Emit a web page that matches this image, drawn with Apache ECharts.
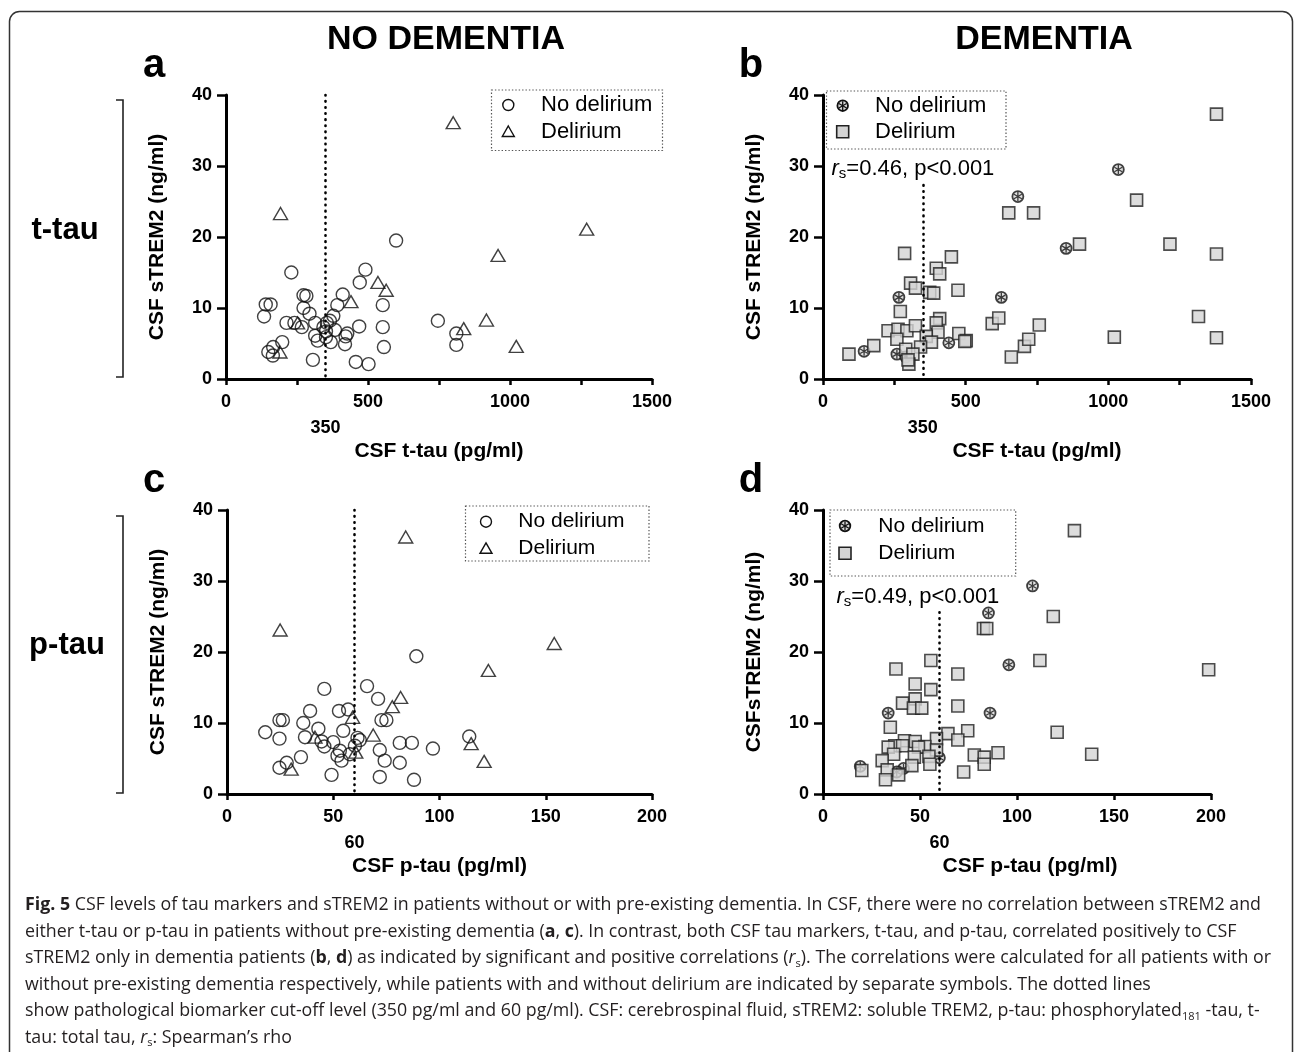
<!DOCTYPE html>
<html><head><meta charset="utf-8">
<script src="https://cdn.jsdelivr.net/npm/echarts@6/dist/echarts.min.js"></script>
<style>html,body{margin:0;padding:0;background:#fff}#c{width:1295px;height:1052px}</style>
</head><body><div id="c"></div>
<script>
// ---------- DATA ----------
// Panel a: no dementia, t-tau (pg/ml) vs sTREM2 (ng/ml)
const aNoDelirium = [[599,19.5],[230,15.0],[491,15.4],[471,13.6],[273,11.8],[283,11.7],[411,11.9],[140,10.5],[157,10.5],[392,10.4],[552,10.4],[273,10.0],[294,9.2],[378,8.9],[134,8.8],[213,7.9],[241,7.9],[267,7.3],[314,7.9],[355,7.9],[366,8.2],[343,7.3],[352,6.7],[384,6.9],[469,7.4],[552,7.3],[314,6.1],[323,5.4],[352,5.9],[369,5.2],[421,6.0],[427,6.4],[419,4.9],[198,5.2],[166,4.5],[149,3.8],[165,3.3],[556,4.5],[306,2.7],[457,2.4],[502,2.1],[746,8.2],[811,6.4],[811,4.8]];
const aDelirium = [[192,23.3],[252,7.9],[190,3.8],[440,10.9],[535,13.6],[564,12.5],[800,36.1],[1270,21.1],[958,17.4],[917,8.3],[837,7.1],[1022,4.6]];
// Panel b: dementia, t-tau vs sTREM2
const bNoDelirium = [[683,25.7],[266,11.5],[625,11.5],[144,3.9],[259,3.5],[290,3.1],[441,5.1],[1035,29.5],[852,18.4]];
const bDelirium = [[651,23.4],[286,17.7],[450,17.2],[397,15.6],[409,14.8],[307,13.5],[324,12.8],[473,12.5],[374,12.2],[388,12.1],[271,9.5],[593,7.8],[616,8.6],[409,8.5],[397,7.9],[228,6.8],[263,7.0],[294,6.8],[324,7.5],[403,6.6],[362,6.0],[476,6.4],[502,5.4],[497,5.3],[380,5.2],[342,4.5],[259,5.6],[290,4.2],[315,3.5],[301,2.1],[298,2.7],[178,4.7],[91,3.5],[660,3.1],[706,4.6],[1379,37.3],[738,23.4],[1099,25.2],[899,19.0],[1216,19.0],[1379,17.6],[758,7.6],[721,5.6],[1316,8.8],[1021,5.9],[1379,5.8]];
// Panel c: no dementia, p-tau vs sTREM2
const cNoDelirium = [[89.1,19.4],[45.8,14.8],[65.9,15.2],[71.1,13.4],[39.1,11.7],[52.7,11.7],[57.0,11.9],[24.7,10.4],[26.3,10.4],[72.7,10.4],[75.0,10.4],[35.9,10.0],[43.0,9.2],[18.0,8.7],[54.7,8.9],[24.7,7.8],[36.7,8.0],[44.5,7.4],[45.8,6.7],[50.0,7.3],[61.4,7.9],[62.5,7.6],[60.2,6.8],[81.3,7.2],[87.0,7.2],[96.9,6.4],[71.9,6.2],[53.1,6.1],[52.0,5.4],[53.9,4.7],[57.8,5.6],[34.8,5.2],[74.2,4.7],[81.3,4.4],[28.1,4.4],[24.7,3.7],[49.2,2.7],[71.9,2.4],[88.0,2.0],[114,8.1]];
const cDelirium = [[84.1,36.2],[25.0,23.1],[81.7,13.6],[77.8,12.3],[59.1,10.8],[68.8,8.3],[41.4,8.0],[60.6,5.9],[30.2,3.5],[154,21.2],[123,17.4],[114.9,7.1],[121,4.6]];
// Panel d: dementia, p-tau vs sTREM2
const dNoDelirium = [[108,29.3],[85.3,25.5],[95.8,18.2],[33.6,11.4],[86.1,11.4],[19.2,3.9],[41.5,3.6],[38,3.1],[60,5.1]];
const dDelirium = [[82.7,23.3],[84.4,23.3],[55.6,18.8],[37.6,17.6],[69.5,16.9],[47.5,15.5],[55.6,14.7],[47.5,13.4],[41.0,12.8],[46.6,12.1],[50.9,12.1],[69.5,12.4],[34.7,9.4],[64.4,8.5],[74.6,8.9],[69.5,7.6],[58.5,7.8],[42.0,7.5],[47.5,7.4],[37.0,6.8],[33.6,6.6],[41.0,6.8],[52.5,6.7],[49.2,6.6],[58.5,6.2],[47.1,5.2],[54.6,5.3],[36.4,5.6],[30.5,4.7],[55.1,4.2],[45.8,4.0],[78.0,5.5],[83.1,5.2],[83.1,4.2],[90.2,5.8],[72.5,3.1],[33.1,3.4],[39.0,2.7],[32.2,2.0],[20.0,3.3],[129.6,37.1],[118.7,25.0],[111.8,18.8],[198.8,17.5],[120.7,8.7],[138.5,5.6]];

const tauCutoff = 350;     // pg/ml
const ptauCutoff = 60;     // pg/ml
const ttauTicks = {max:1500, interval:500};
const ptauTicks = {max:200, interval:50};
const sTrem2Ticks = {max:40, interval:10};
const seriesNames = ['No delirium', 'Delirium'];
const corrB = '=0.46, p<0.001';
const corrD = '=0.49, p<0.001';

// ---------- STYLE ----------
const FF = '"Liberation Sans", Arial, Helvetica, sans-serif';
const CF = '"Open Sans", "Noto Sans", sans-serif';
const K = '#111';
const chart = echarts.init(document.getElementById('c'), null, {renderer:'canvas'});

const grids = [
  {left:226, top:95, width:426, height:284},
  {left:823, top:95, width:428, height:284},
  {left:227, top:510, width:425, height:284},
  {left:823, top:510, width:388, height:284}
];
const plainNum = function (v) { return String(v); };

function xAx(gi, ticks, minor, name, extraName) {
  return Object.assign({
    gridIndex: gi, type: 'value', min: 0, max: ticks.max, interval: ticks.interval,
    name: name, nameLocation: 'middle', nameGap: 62,
    nameTextStyle: {fontFamily: FF, fontSize: 21, fontWeight: 'bold', color: '#000'},
    axisLine: {show: true, onZero: false, lineStyle: {color: '#000', width: 3}},
    axisTick: {show: true, length: 6, lineStyle: {color: '#000', width: 2.5}},
    minorTick: {show: minor, splitNumber: 2, length: 6, lineStyle: {color: '#000', width: 2.5}},
    axisLabel: {fontFamily: FF, fontSize: 18, fontWeight: 'bold', color: '#000', margin: 14, formatter: plainNum},
    splitLine: {show: false}, minorSplitLine: {show: false}
  }, extraName || {});
}
function yAx(gi, name) {
  return {
    gridIndex: gi, type: 'value', min: 0, max: sTrem2Ticks.max, interval: sTrem2Ticks.interval,
    name: name, nameLocation: 'middle', nameGap: 58,
    nameTextStyle: {fontFamily: FF, fontSize: 21, fontWeight: 'bold', color: '#000'},
    axisLine: {show: true, onZero: false, lineStyle: {color: '#000', width: 3}},
    axisTick: {show: true, length: 9, lineStyle: {color: '#000', width: 2.5}},
    axisLabel: {fontFamily: FF, fontSize: 18, fontWeight: 'bold', color: '#000', margin: 14, formatter: plainNum},
    splitLine: {show: false}
  };
}

const dotted = {color: '#000', width: 2.6, type: [0.5, 5.6], cap: 'round'};
function cutLine(x, yTop) {
  return {silent: true, symbol: 'none', label: {show: false}, lineStyle: dotted,
    emphasis: {disabled: true},
    data: [[{coord: [x, yTop]}, {coord: [x, 0]}]]};
}
const circleStyle = {color: 'rgba(255,255,255,0)', borderColor: K, borderWidth: 1.4};
const triStyle = {color: 'rgba(255,255,255,0)', borderColor: K, borderWidth: 1.4};
const squareStyle = {color: '#d4d4d4', borderColor: '#222', borderWidth: 1.6};
const starPath = 'path://M0,-10L0,10M-8.66,-5L8.66,5M-8.66,5L8.66,-5';

function base(gi) { return {type: 'scatter', xAxisIndex: gi, yAxisIndex: gi, emphasis: {disabled: true}, silent: true, animation: false}; }

const series = [
  Object.assign(base(0), {name: seriesNames[0], data: aNoDelirium, symbol: 'circle', symbolSize: 13, itemStyle: circleStyle, markLine: cutLine(tauCutoff, 40)}),
  Object.assign(base(0), {name: seriesNames[1], data: aDelirium, symbol: 'triangle', symbolSize: [14, 12], itemStyle: triStyle}),
  Object.assign(base(1), {name: seriesNames[0], data: bNoDelirium, symbol: 'circle', symbolSize: 11, itemStyle: {color: '#d8d8d8', borderColor: K, borderWidth: 1.8}, markLine: cutLine(tauCutoff, 27.3)}),
  Object.assign(base(1), {name: seriesNames[0] + ' ', data: bNoDelirium, symbol: starPath, symbolSize: 9, symbolKeepAspect: true, itemStyle: {color: 'none', borderColor: K, borderWidth: 1.3}}),
  Object.assign(base(1), {name: seriesNames[1], data: bDelirium, symbol: 'rect', symbolSize: 12, itemStyle: squareStyle}),
  Object.assign(base(2), {name: seriesNames[0], data: cNoDelirium, symbol: 'circle', symbolSize: 13, itemStyle: circleStyle, markLine: cutLine(ptauCutoff, 40)}),
  Object.assign(base(2), {name: seriesNames[1], data: cDelirium, symbol: 'triangle', symbolSize: [14, 12], itemStyle: triStyle}),
  Object.assign(base(3), {name: seriesNames[0], data: dNoDelirium, symbol: 'circle', symbolSize: 11, itemStyle: {color: '#d8d8d8', borderColor: K, borderWidth: 1.8}, markLine: cutLine(ptauCutoff, 25.6)}),
  Object.assign(base(3), {name: seriesNames[0] + ' ', data: dNoDelirium, symbol: starPath, symbolSize: 9, symbolKeepAspect: true, itemStyle: {color: 'none', borderColor: K, borderWidth: 1.3}}),
  Object.assign(base(3), {name: seriesNames[1], data: dDelirium, symbol: 'rect', symbolSize: 12, itemStyle: squareStyle})
];

// ---------- GRAPHIC ----------
const G = [];
G.push({type: 'rect', shape: {x: 9.5, y: 11.5, width: 1283, height: 1070, r: 10}, style: {fill: 'none', stroke: '#333', lineWidth: 1.5}, silent: true});
function txt(x, y, text, size, weight, align, extra) {
  G.push({type: 'text', x: x, y: y, silent: true, style: Object.assign({text: text, fontFamily: FF, fontSize: size, fontWeight: weight || 'normal', fill: '#000', align: align || 'center', verticalAlign: 'middle'}, extra || {})});
}
txt(446, 40, 'NO DEMENTIA', 34, 'bold');
txt(1044, 40, 'DEMENTIA', 34, 'bold');
txt(154, 66, 'a', 40, 'bold');
txt(751, 66, 'b', 40, 'bold');
txt(154, 481, 'c', 40, 'bold');
txt(751, 481, 'd', 40, 'bold');
txt(65, 230, 't-tau', 31, 'bold');
txt(67, 645, 'p-tau', 31, 'bold');
function bracket(y1, y2) {
  G.push({type: 'polyline', silent: true, shape: {points: [[116, y1], [123, y1], [123, y2], [116, y2]]}, style: {stroke: '#222', lineWidth: 1.6, fill: 'none'}});
}
bracket(100, 377);
bracket(516, 793);

function legendBox(x1, y1, x2, y2) {
  G.push({type: 'rect', silent: true, shape: {x: x1, y: y1, width: x2 - x1, height: y2 - y1}, style: {fill: 'none', stroke: '#555', lineWidth: 1.2, lineDash: [1.4, 2]}});
}
function legCircle(x, y) { G.push({type: 'circle', silent: true, shape: {cx: x, cy: y, r: 5.5}, style: {fill: 'none', stroke: K, lineWidth: 1.4}}); }
function legTri(x, y) { G.push({type: 'polygon', silent: true, shape: {points: [[x, y - 5.5], [x + 6, y + 5], [x - 6, y + 5]]}, style: {fill: 'none', stroke: K, lineWidth: 1.4}}); }
function legSquare(x, y) { G.push({type: 'rect', silent: true, shape: {x: x - 6, y: y - 6, width: 12, height: 12}, style: {fill: '#d4d4d4', stroke: '#222', lineWidth: 1.6}}); }
function legStar(x, y) {
  G.push({type: 'circle', silent: true, shape: {cx: x, cy: y, r: 5.3}, style: {fill: '#d8d8d8', stroke: K, lineWidth: 1.8}});
  const r = 4.5, a = [90, 30, -30];
  a.forEach(function (d) {
    const rad = d * Math.PI / 180;
    G.push({type: 'line', silent: true, shape: {x1: x - r * Math.cos(rad), y1: y - r * Math.sin(rad), x2: x + r * Math.cos(rad), y2: y + r * Math.sin(rad)}, style: {stroke: K, lineWidth: 1.3}});
  });
}
// legend a
legendBox(491.5, 90, 662.5, 150.5); legCircle(508.3, 105); legTri(508.3, 131.5);
txt(541, 105, seriesNames[0], 22, 'normal', 'left'); txt(541, 131.5, seriesNames[1], 22, 'normal', 'left');
// legend b
legendBox(826.5, 91, 1006, 149); legStar(842.7, 105.7); legSquare(842.7, 131.7);
txt(875, 106, seriesNames[0], 22, 'normal', 'left'); txt(875, 132, seriesNames[1], 22, 'normal', 'left');
// legend c
legendBox(465.5, 506, 649, 561); legCircle(486, 521.7); legTri(486, 548.3);
txt(518.3, 521.7, seriesNames[0], 21, 'normal', 'left'); txt(518.3, 548.3, seriesNames[1], 21, 'normal', 'left');
// legend d
legendBox(830, 510, 1015.7, 576); legStar(845, 526); legSquare(845, 553.3);
txt(878.3, 526, seriesNames[0], 21, 'normal', 'left'); txt(878.3, 553.3, seriesNames[1], 21, 'normal', 'left');

function corr(x, y, s) {
  G.push({type: 'text', x: x, y: y, silent: true, style: {
    text: '{i|r}{s|s}{n|' + s + '}', align: 'left', verticalAlign: 'middle', fontFamily: FF, fontSize: 22, fill: '#000',
    rich: {
      i: {fontFamily: FF, fontSize: 22, fontStyle: 'italic', lineHeight: 24, fill: '#000'},
      s: {fontFamily: FF, fontSize: 15, lineHeight: 14, verticalAlign: 'bottom', fill: '#000'},
      n: {fontFamily: FF, fontSize: 22, lineHeight: 24, fill: '#000'}
    }}});
}
corr(831.5, 169, corrB);
corr(836.5, 597, corrD);

// caption
const capLines = [
  '{b|Fig. 5} CSF levels of tau markers and sTREM2 in patients without or with pre-existing dementia. In CSF, there were no correlation between sTREM2 and',
  'either t-tau or p-tau in patients without pre-existing dementia ({b|a}, {b|c}). In contrast, both CSF tau markers, t-tau, and p-tau, correlated positively to CSF',
  'sTREM2 only in dementia patients ({b|b}, {b|d}) as indicated by significant and positive correlations ({i|r}{sub|s}). The correlations were calculated for all patients with or',
  'without pre-existing dementia respectively, while patients with and without delirium are indicated by separate symbols. The dotted lines',
  'show pathological biomarker cut-off level (350 pg/ml and 60 pg/ml). CSF: cerebrospinal fluid, sTREM2: soluble TREM2, p-tau: phosphorylated{sub|181} -tau, t-',
  'tau: total tau, {i|r}{sub|s}: Spearman\u2019s rho'
];
const capY = [905, 931.5, 958, 985, 1011, 1037.5];
const cv = document.createElement('canvas').getContext('2d');
cv.font = '100px ' + CF;
function plain(s) { return s.replace(/\{[a-z]+\|([^}]*)\}/g, '$1'); }
let capSize = Math.min(100 * 1252 / cv.measureText(plain(capLines[0])).width,
                       100 * 1250 / cv.measureText(plain(capLines[2])).width);
capSize = Math.max(14, Math.min(20, capSize));
const capColor = '#231f20';
capLines.forEach(function (l, i) {
  G.push({type: 'text', x: 25, y: capY[i], silent: true, style: {
    text: l, align: 'left', verticalAlign: 'middle', fontFamily: CF, fontSize: capSize, lineHeight: 22, fill: capColor,
    rich: {
      b: {fontFamily: CF, fontSize: capSize, fontWeight: 'bold', lineHeight: 22, fill: capColor},
      i: {fontFamily: CF, fontSize: capSize, fontStyle: 'italic', lineHeight: 22, fill: capColor},
      sub: {fontFamily: CF, fontSize: capSize * 0.62, lineHeight: 10, verticalAlign: 'bottom', fill: capColor}
    }}});
});

const option = {
  backgroundColor: '#fff',
  animation: false,
  grid: grids,
  xAxis: [
    xAx(0, ttauTicks, true, 'CSF t-tau (pg/ml)'),
    xAx(1, ttauTicks, true, 'CSF t-tau (pg/ml)'),
    xAx(2, ptauTicks, false, 'CSF p-tau (pg/ml)'),
    xAx(3, ptauTicks, false, 'CSF p-tau (pg/ml)', {nameTextStyle: {fontFamily: FF, fontSize: 21, fontWeight: 'bold', color: '#000', padding: [0, 0, 0, 26]}})
  ],
  yAxis: [
    yAx(0, 'CSF sTREM2 (ng/ml)'),
    yAx(1, 'CSF sTREM2 (ng/ml)'),
    yAx(2, 'CSF sTREM2 (ng/ml)'),
    yAx(3, 'CSFsTREM2 (ng/ml)')
  ],
  series: series,
  graphic: G
};
chart.setOption(option);

// cut-off value labels placed through the axis scales
const cut = [[0, tauCutoff, 428], [1, tauCutoff, 428], [2, ptauCutoff, 843], [3, ptauCutoff, 843]];
cut.forEach(function (c) {
  const px = chart.convertToPixel({xAxisIndex: c[0]}, c[1]);
  G.push({type: 'text', x: px, y: c[2], silent: true, style: {text: String(c[1]), fontFamily: FF, fontSize: 18, fontWeight: 'bold', fill: '#000', align: 'center', verticalAlign: 'middle'}});
});
chart.setOption({graphic: G});
</script></body></html>
